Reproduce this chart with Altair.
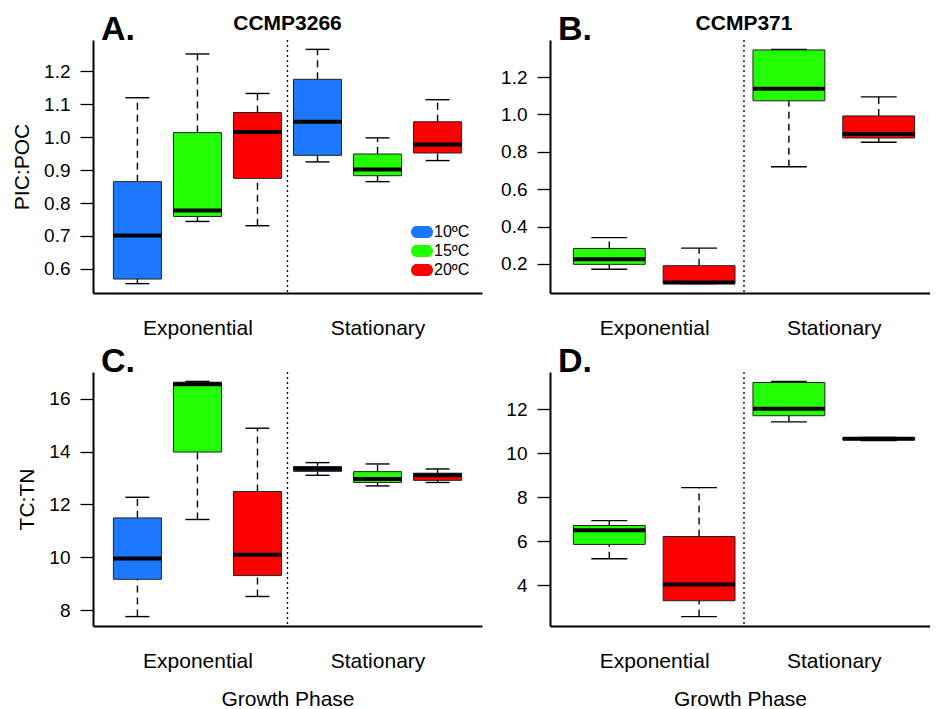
import altair as alt
import pandas as pd

FONT = "Liberation Sans"

temps = ["10ºC", "15ºC", "20ºC"]
colors = ["#1E78FF", "#22FF00", "#FF0000"]
phases = ["Exponential", "Stationary"]
letters = ["A.", "B.", "C.", "D."]
strains = ["CCMP3266", "CCMP371"]

# Panel A: CCMP3266, PIC:POC
a_pos = [1, 2, 3, 4, 5, 6]
a_phase = ["Exponential", "Exponential", "Exponential", "Stationary", "Stationary", "Stationary"]
a_temp = ["10ºC", "15ºC", "20ºC", "10ºC", "15ºC", "20ºC"]
a_lo = [0.555, 0.744, 0.731, 0.925, 0.865, 0.929]
a_q1 = [0.569, 0.759, 0.875, 0.945, 0.883, 0.952]
a_med = [0.701, 0.777, 1.016, 1.047, 0.902, 0.978]
a_q3 = [0.865, 1.014, 1.075, 1.176, 0.949, 1.047]
a_hi = [1.120, 1.253, 1.133, 1.267, 0.998, 1.114]

# Panel B: CCMP371, PIC:POC
b_pos = [1, 2, 3, 4]
b_phase = ["Exponential", "Exponential", "Stationary", "Stationary"]
b_temp = ["15ºC", "20ºC", "15ºC", "20ºC"]
b_lo = [0.172, 0.095, 0.720, 0.851]
b_q1 = [0.198, 0.096, 1.073, 0.874]
b_med = [0.226, 0.101, 1.137, 0.895]
b_q3 = [0.283, 0.191, 1.345, 0.992]
b_hi = [0.341, 0.285, 1.348, 1.094]

# Panel C: CCMP3266, TC:TN
c_pos = [1, 2, 3, 4, 5, 6]
c_phase = a_phase
c_temp = a_temp
c_lo = [7.76, 11.43, 8.52, 13.10, 12.70, 12.83]
c_q1 = [9.17, 13.98, 9.31, 13.25, 12.83, 12.91]
c_med = [9.96, 16.54, 10.10, 13.35, 12.96, 13.10]
c_q3 = [11.49, 16.62, 12.49, 13.43, 13.24, 13.18]
c_hi = [12.27, 16.65, 14.88, 13.58, 13.53, 13.34]

# Panel D: CCMP371, TC:TN
d_pos = [1, 2, 3, 4]
d_phase = b_phase
d_temp = b_temp
d_lo = [5.21, 2.58, 11.43, 10.58]
d_q1 = [5.86, 3.30, 11.71, 10.62]
d_med = [6.51, 4.04, 12.03, 10.66]
d_q3 = [6.72, 6.22, 13.22, 10.70]
d_hi = [6.94, 8.44, 13.27, 10.72]

a_ticks = [0.6, 0.7, 0.8, 0.9, 1.0, 1.1, 1.2]
b_ticks = [0.2, 0.4, 0.6, 0.8, 1.0, 1.2]
c_ticks = [8, 10, 12, 14, 16]
d_ticks = [4, 6, 8, 10, 12]

color_scale = alt.Scale(domain=temps, range=colors)


def panel(letter, title, pos, phase, temp, lo, q1, med, q3, hi, ticks, fmt,
          ytitle, xtitle, legend, width, full_width, height):
    df = pd.DataFrame({"pos": pos, "phase": phase, "temp": temp, "lo": lo,
                       "q1": q1, "med": med, "q3": q3, "hi": hi})
    n = len(pos)
    # R-style limits: 0.5..n+0.5 expanded by 4%
    xmin = 0.5 - 0.04 * n
    xmax_full = n + 0.5 + 0.04 * n
    xmax = xmin + (xmax_full - xmin) * width / full_width
    span = max(hi) - min(lo)
    ymin = min(lo) - 0.04 * span
    ymax = max(hi) + 0.04 * span

    exp_pos = [p for p, ph in zip(pos, phase) if ph == phases[0]]
    sta_pos = [p for p, ph in zip(pos, phase) if ph == phases[1]]
    sep = (max(exp_pos) + min(sta_pos)) / 2
    c_exp = sum(exp_pos) / len(exp_pos)
    c_sta = sum(sta_pos) / len(sta_pos)

    xscale = alt.Scale(domain=[xmin, xmax], nice=False, zero=False)
    yscale = alt.Scale(domain=[ymin, ymax], nice=False, zero=False)
    xaxis = alt.Axis(values=[c_exp, c_sta], ticks=False, grid=False,
                     labelExpr=f"datum.value < {sep} ? '{phases[0]}' : '{phases[1]}'",
                     labelFontSize=21, labelPadding=24, labelFlush=False,
                     labelOverlap=False, domainWidth=2, titlePadding=17,
                     titleFontSize=21)
    yaxis = alt.Axis(values=ticks, format=fmt, tickSize=13, tickWidth=1.3,
                     labelPadding=10, domainWidth=2, grid=False,
                     titlePadding=11, titleFontSize=21, labelFontSize=19)

    def X(f):
        return alt.X(f, type="quantitative", scale=xscale, axis=xaxis, title=xtitle)

    def Y(f):
        return alt.Y(f, type="quantitative", scale=yscale, axis=yaxis, title=ytitle)

    base = alt.Chart(df).transform_calculate(
        boxL="datum.pos - 0.4", boxR="datum.pos + 0.4",
        capL="datum.pos - 0.2", capR="datum.pos + 0.2")

    whisk_lo = base.mark_rule(color="black", strokeWidth=1.4, strokeDash=[7, 5]).encode(
        x=X("pos"), y=Y("lo"), y2="q1:Q")
    whisk_hi = base.mark_rule(color="black", strokeWidth=1.4, strokeDash=[7, 5]).encode(
        x=X("pos"), y=Y("q3"), y2="hi:Q")
    cap_lo = base.mark_rule(color="black", strokeWidth=1.4).encode(
        x=X("capL"), x2="capR:Q", y=Y("lo"))
    cap_hi = base.mark_rule(color="black", strokeWidth=1.4).encode(
        x=X("capL"), x2="capR:Q", y=Y("hi"))
    if legend:
        leg = alt.Legend(orient="none", legendX=318, legendY=181, title=None,
                         symbolType="M-0.5,-0.55 L0.5,-0.55 A0.5,0.55 0 0 1 0.5,0.55 L-0.5,0.55 A0.5,0.55 0 0 1 -0.5,-0.55 Z",
                         symbolSize=484, symbolStrokeWidth=0, labelFontSize=16,
                         labelFont=FONT, labelColor="black", labelOffset=1,
                         rowPadding=0, padding=0)
        color = alt.Color("temp:N", scale=color_scale, legend=leg)
    else:
        color = alt.Color("temp:N", scale=color_scale, legend=None)
    box = base.mark_rect(stroke="#222222", strokeWidth=1).encode(
        x=X("boxL"), x2="boxR:Q", y=Y("q1"), y2="q3:Q", color=color)
    median = base.mark_rule(color="black", strokeWidth=4).encode(
        x=X("boxL"), x2="boxR:Q", y=Y("med"))
    sepline = alt.Chart(pd.DataFrame({"sep": [sep]})).mark_rule(
        color="black", strokeWidth=1.3, strokeDash=[2, 3]).encode(x=X("sep"))
    lab = alt.Chart(pd.DataFrame({"t": [letter]})).mark_text(
        align="left", baseline="alphabetic", fontSize=34, fontWeight="bold",
        font=FONT, color="black").encode(
        x=alt.value(8), y=alt.value(0), text="t:N")

    layers = [whisk_lo, whisk_hi, cap_lo, cap_hi, box, median, sepline, lab]
    if title:
        ttl = alt.Chart(pd.DataFrame({"t": [title]})).mark_text(
            align="center", baseline="alphabetic", fontSize=21, fontWeight="bold",
            font=FONT, color="black").encode(
            x=alt.value(full_width / 2), y=alt.value(-10), text="t:N")
        layers.append(ttl)
    return alt.layer(*layers).properties(width=width, height=height)


pA = panel(letters[0], strains[0], a_pos, a_phase, a_temp, a_lo, a_q1, a_med, a_q3, a_hi,
           a_ticks, ".1f", "PIC:POC", "", True, 389, 389, 253)
pB = panel(letters[1], strains[1], b_pos, b_phase, b_temp, b_lo, b_q1, b_med, b_q3, b_hi,
           b_ticks, ".1f", "", "", False, 380, 388, 253)
pC = panel(letters[2], "", c_pos, c_phase, c_temp, c_lo, c_q1, c_med, c_q3, c_hi,
           c_ticks, "d", "TC:TN", "Growth Phase", False, 389, 389, 254)
pD = panel(letters[3], "", d_pos, d_phase, d_temp, d_lo, d_q1, d_med, d_q3, d_hi,
           d_ticks, "d", "", "Growth Phase", False, 380, 388, 254)

chart = alt.concat(pA, pB, pC, pD, columns=2, spacing={"row": 79, "column": 68},
                   bounds="flush").resolve_legend(color="independent").properties(
    padding={"left": 3, "top": 5, "right": 0, "bottom": 0}
).configure_view(strokeWidth=0).configure_axis(
    labelFont=FONT, titleFont=FONT, labelColor="black", titleColor="black",
    domainColor="black", tickColor="black", titleFontWeight="normal"
)

chart.save("out.html", embed_options={"renderer": "svg", "actions": False})
